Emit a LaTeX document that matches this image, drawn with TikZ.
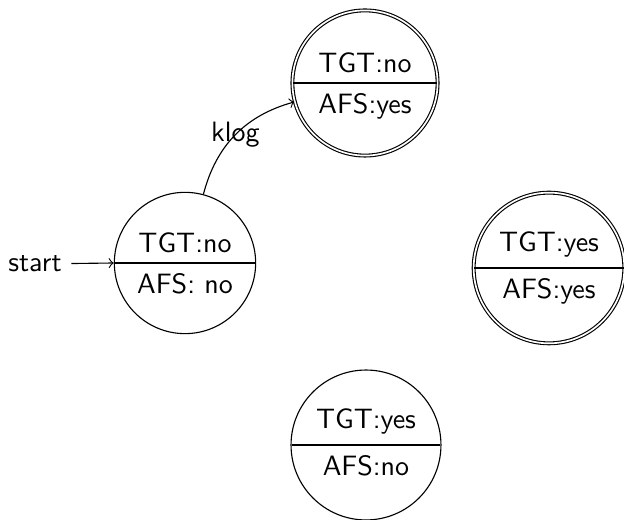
\documentclass[tikz,border=0pt]{standalone}
\usetikzlibrary{shapes.multipart}
\begin{document}
\begin{tikzpicture}[x=0.35714pt,y=-0.35714pt,font=\sffamily,
  statenode/.style={circle split,draw,thin,inner sep=3.5pt},
  finalnode/.style={statenode,double,double distance=0.6pt},
  link/.style={->,thin}]
\useasboundingbox (0,0) rectangle (624,520);
\node[statenode] (A) at (185,263) {TGT:no \nodepart{lower} AFS: no};
\node[finalnode] (B) at (365,83) {TGT:no \nodepart{lower} AFS:yes};
\node[finalnode] (C) at (549,268) {TGT:yes \nodepart{lower} AFS:yes};
\node[statenode] (D) at (366,445) {TGT:yes \nodepart{lower} AFS:no};
\node (start) at (35,264) {start};
\draw[link] (start) -- (A.west);
\draw[link] (A) to[bend left=30] node {klog} (B);
\end{tikzpicture}
\end{document}
